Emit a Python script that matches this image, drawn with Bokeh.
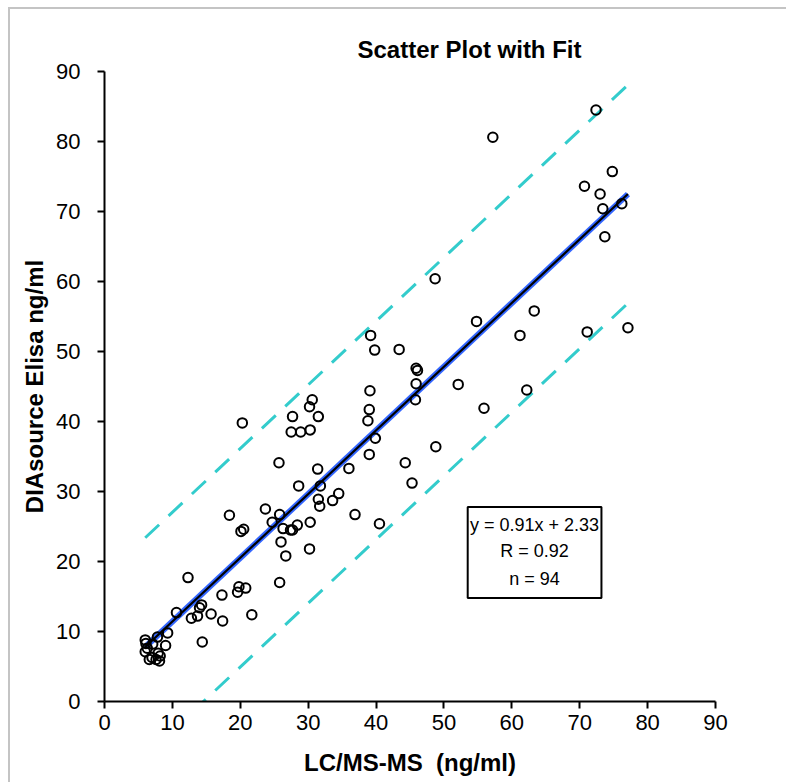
from bokeh.plotting import figure
from bokeh.models import Label, BoxAnnotation, FixedTicker, Range1d
from bokeh.embed import file_html
from bokeh.resources import INLINE

# ---- data ----
lcms = [12.3, 10.6, 9.3, 9.0, 6.0, 6.1, 7.1, 6.0, 6.6, 7.0, 7.9, 8.2, 8.1, 14.4, 12.8, 13.7,
        14.0, 14.3, 15.7, 17.4, 17.3, 19.6, 19.8, 20.8, 21.7, 25.8,
        18.4, 20.3, 20.1, 20.5, 23.7, 24.7, 25.8, 25.7, 26.0, 26.7, 26.3, 27.4, 27.7, 28.4,
        28.6, 30.2, 30.3, 27.5, 28.9, 30.3, 27.7, 31.5, 30.2, 30.6, 31.4, 31.8, 31.5, 31.7,
        33.6, 34.5, 36.0, 36.9,
        39.2, 39.8, 43.4, 54.8, 45.9, 46.1, 45.9, 45.8, 52.1, 55.9, 39.1, 39.0, 38.8, 39.9,
        39.0, 48.8, 44.3, 45.3, 40.5,
        57.2, 48.7, 70.7, 74.8, 73.0, 73.4, 76.2, 73.7, 63.3, 61.2, 71.1, 77.1, 72.4,
        62.2, 7.8, 6.3, 7.6]
elisa = [17.7, 12.7, 9.8, 8.0, 8.8, 8.3, 8.2, 7.1, 6.0, 6.3, 6.9, 6.5, 5.8, 8.5, 11.9, 12.2,
         13.4, 13.8, 12.5, 11.5, 15.2, 15.6, 16.4, 16.2, 12.4, 17.0,
         26.6, 39.8, 24.3, 24.6, 27.5, 25.6, 26.7, 34.1, 22.8, 20.8, 24.7, 24.5, 24.5, 25.2,
         30.8, 21.8, 25.6, 38.5, 38.5, 38.8, 40.7, 40.7, 42.1, 43.1, 33.2, 30.8, 28.9, 27.9,
         28.7, 29.7, 33.3, 26.7,
         52.3, 50.2, 50.3, 54.3, 47.6, 47.3, 45.4, 43.1, 45.3, 41.9, 44.4, 41.7, 40.1, 37.6,
         35.3, 36.4, 34.1, 31.2, 25.4,
         80.6, 60.4, 73.6, 75.7, 72.5, 70.4, 71.1, 66.4, 55.8, 52.3, 52.8, 53.4, 84.5,
         44.5, 9.2, 7.6, 6.0]

slope = 0.91
intercept = 2.33
band = 15.6            # half-width of the dashed prediction band
x_ticks = [0, 10, 20, 30, 40, 50, 60, 70, 80, 90]
y_ticks = [0, 10, 20, 30, 40, 50, 60, 70, 80, 90]
stats_lines = ["y = 0.91x + 2.33", "R = 0.92", "n = 94"]
title_text = "Scatter Plot with Fit"
x_label = "LC/MS-MS\u00a0\u00a0(ng/ml)"
y_label = "DIAsource Elisa ng/ml"

FONT = "Liberation Sans"
GRAY = "#c4c4c4"

p = figure(frame_width=611, frame_height=630,
           x_range=Range1d(0, 90), y_range=Range1d(0, 90),
           output_backend="svg", toolbar_location=None,
           min_border_left=104, min_border_right=71, min_border_top=71, min_border_bottom=81,
           background_fill_color="white", border_fill_color=None)
p.styles = {
    "background-color": "white",
    "background-image": f"linear-gradient({GRAY}, {GRAY}), linear-gradient({GRAY}, {GRAY})",
    "background-position": "8px 7px, 8px 7px",
    "background-size": "100% 2px, 2px 100%",
    "background-repeat": "no-repeat",
    "margin-bottom": "-14px",
}
p.grid.visible = False
p.outline_line_color = None

p.title.text = title_text
p.title.align = "left"
p.title.offset = 253
p.title.standoff = 18
p.title.text_font = FONT
p.title.text_font_style = "bold"
p.title.text_font_size = "24px"
p.title.text_color = "black"

for ax, ticks in ((p.xaxis[0], x_ticks), (p.yaxis[0], y_ticks)):
    ax.ticker = FixedTicker(ticks=ticks)
    ax.axis_line_color = "black"
    ax.axis_line_width = 2
    ax.major_tick_line_color = "black"
    ax.major_tick_line_width = 2
    ax.major_tick_out = 7
    ax.major_tick_in = 0
    ax.minor_tick_line_color = None
    ax.major_label_text_font = FONT
    ax.major_label_text_font_size = "22px"
    ax.major_label_text_color = "black"
    ax.axis_label_text_font = FONT
    ax.axis_label_text_font_style = "bold"
    ax.axis_label_text_font_size = "24px"
    ax.axis_label_text_color = "black"

p.xaxis.axis_label = x_label
p.yaxis.axis_label = y_label
p.xaxis.major_label_standoff = 6
p.yaxis.major_label_standoff = 17
p.xaxis.axis_label_standoff = 16
p.yaxis.axis_label_standoff = 5

# fit line and band, evaluated over the data range
xs = [min(lcms), max(lcms)]
fit = [slope * v + intercept for v in xs]
p.line(xs, [f + band for f in fit], line_color="#33cccc", line_width=3, line_dash="19 13")
p.line(xs, [f - band for f in fit], line_color="#33cccc", line_width=3, line_dash="19 13")
p.line(xs, fit, line_color="#3366ff", line_width=6)
p.line(xs, fit, line_color="black", line_width=2.2)

p.scatter(lcms, elisa, marker="circle", size=9.5, fill_color=None,
          line_color="black", line_width=2)

# stats box
p.add_layout(BoxAnnotation(left=53.5, right=73.2, bottom=14.8, top=27.8,
                           fill_color="white", fill_alpha=1.0,
                           line_color="black", line_width=2, line_alpha=1.0))
for txt, yy in zip(stats_lines, [25.2, 21.5, 17.5]):
    p.add_layout(Label(x=63.35, y=yy, text=txt, text_align="center", text_baseline="middle",
                       text_font=FONT, text_font_size="18px", text_color="black"))

open("out.html", "w").write(file_html(p, INLINE))
